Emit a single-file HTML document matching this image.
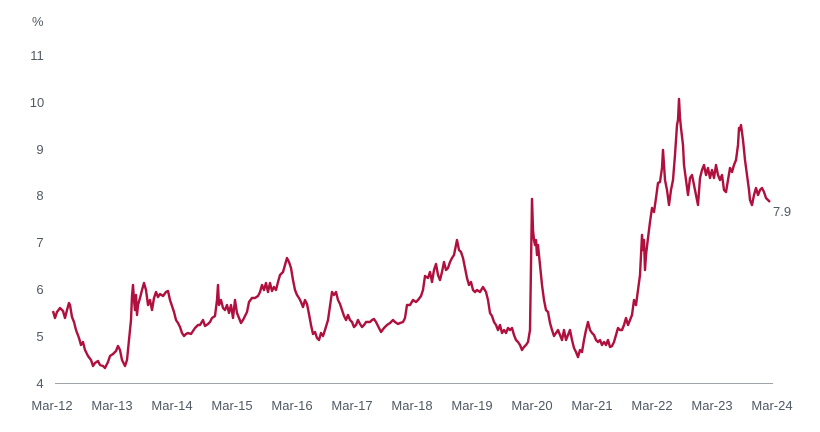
<!DOCTYPE html>
<html><head><meta charset="utf-8"><style>
html,body{margin:0;padding:0;background:#fff;}
svg{display:block;font-family:"Liberation Sans",sans-serif;}
text{fill:#505a64;font-size:13px;}
</style></head><body>
<svg width="820" height="432" viewBox="0 0 820 432">
<text x="32" y="26">%</text>
<g text-anchor="middle">
<text x="37" y="60">11</text>
<text x="37" y="107">10</text>
<text x="40" y="154">9</text>
<text x="40" y="200">8</text>
<text x="40" y="247">7</text>
<text x="40" y="294">6</text>
<text x="40" y="341">5</text>
<text x="40" y="388">4</text>
<text x="52" y="410">Mar-12</text>
<text x="112" y="410">Mar-13</text>
<text x="172" y="410">Mar-14</text>
<text x="232" y="410">Mar-15</text>
<text x="292" y="410">Mar-16</text>
<text x="352" y="410">Mar-17</text>
<text x="412" y="410">Mar-18</text>
<text x="472" y="410">Mar-19</text>
<text x="532" y="410">Mar-20</text>
<text x="592" y="410">Mar-21</text>
<text x="652" y="410">Mar-22</text>
<text x="712" y="410">Mar-23</text>
<text x="772" y="410">Mar-24</text>
</g>
<line x1="55" y1="383.5" x2="773" y2="383.5" stroke="#a0a4a8" stroke-width="1"/>
<polyline fill="none" stroke="#b0103e" stroke-width="2.4" stroke-linejoin="round" points="53,311 55,318 57,312 60,308 63,311 65,318 67,310 69,303 70,305 72,317 74,322 76,330 79,338 81,345 83,342 85,350 88,356 91,360 93,366 95,363 98,361 100,365 103,366 105,368 108,362 110,356 113,354 116,351 118,346 120,350 122,360 125,366 127,360 129,340 131,320 132,296 133,285 134,300 135,310 136,295 137,315 138,305 140,298 142,290 144,283 146,290 148,305 150,300 152,310 154,298 156,292 158,297 160,294 163,296 166,292 168,291 170,300 172,306 174,312 176,320 178,323 180,327 182,333 184,336 186,334 188,333 191,334 193,331 195,328 198,325 200,325 203,320 205,326 208,324 210,322 212,318 215,316 217,300 218,285 219,305 221,300 223,308 225,310 227,305 229,313 231,305 233,318 235,300 237,313 239,318 241,323 243,320 245,316 247,312 249,302 252,298 255,298 258,296 260,292 262,285 264,290 266,283 268,292 270,283 272,291 274,287 276,290 278,282 280,275 283,272 285,265 287,258 289,262 291,268 293,280 295,290 297,295 299,298 301,302 303,307 305,300 307,304 309,314 311,325 313,334 315,332 317,338 319,340 321,333 323,336 325,330 328,320 330,306 332,292 334,295 336,292 338,300 340,304 342,310 344,316 346,320 348,315 350,320 352,322 354,327 356,325 358,320 360,324 362,327 364,325 366,322 370,322 372,320 374,319 376,322 378,326 381,332 384,328 387,325 390,323 393,320 395,322 398,324 400,323 403,322 405,318 407,305 410,305 413,300 416,302 418,300 421,296 423,290 425,276 428,278 430,272 432,282 434,270 436,264 438,275 440,280 442,272 444,262 446,270 448,268 450,262 452,258 454,255 456,245 457,240 459,250 461,252 463,258 465,268 467,278 469,285 471,282 473,290 475,292 477,290 480,292 483,287 486,292 488,300 490,313 492,316 494,322 496,325 498,330 500,325 502,333 504,330 506,333 508,328 510,330 512,328 514,335 516,340 518,342 520,345 522,350 524,347 526,345 528,342 530,330 531,265 532,199 533,230 534,240 535,245 536,240 537,255 538,245 540,265 542,285 544,300 546,310 548,312 550,323 552,330 554,336 556,333 558,330 560,335 562,340 564,330 566,340 568,335 570,330 572,340 574,348 576,352 578,357 580,350 582,352 584,340 586,330 588,322 590,330 592,333 594,335 596,340 598,342 600,340 602,345 604,342 606,345 608,340 610,347 612,346 614,342 616,335 618,328 620,330 622,330 624,325 626,318 628,325 630,320 632,315 634,300 636,305 638,290 640,275 641,255 642,235 643,250 644,240 645,270 646,255 648,238 650,222 652,208 654,212 656,198 658,183 660,182 662,168 663,150 665,180 667,190 669,205 671,190 673,180 675,155 677,125 678,120 679,99 680,118 681,128 683,145 684,165 686,180 688,195 690,178 692,175 694,185 696,195 698,205 700,178 702,170 704,165 706,175 708,168 710,178 712,170 714,178 716,165 718,175 720,180 722,175 724,190 726,192 728,180 730,168 732,172 734,165 736,160 738,145 739,128 740,130 741,125 743,140 745,160 747,175 749,190 750,200 752,205 754,195 756,188 758,195 760,190 762,188 764,192 766,198 768,200 770,202"/>
<text x="773" y="216">7.9</text>
</svg>
</body></html>
